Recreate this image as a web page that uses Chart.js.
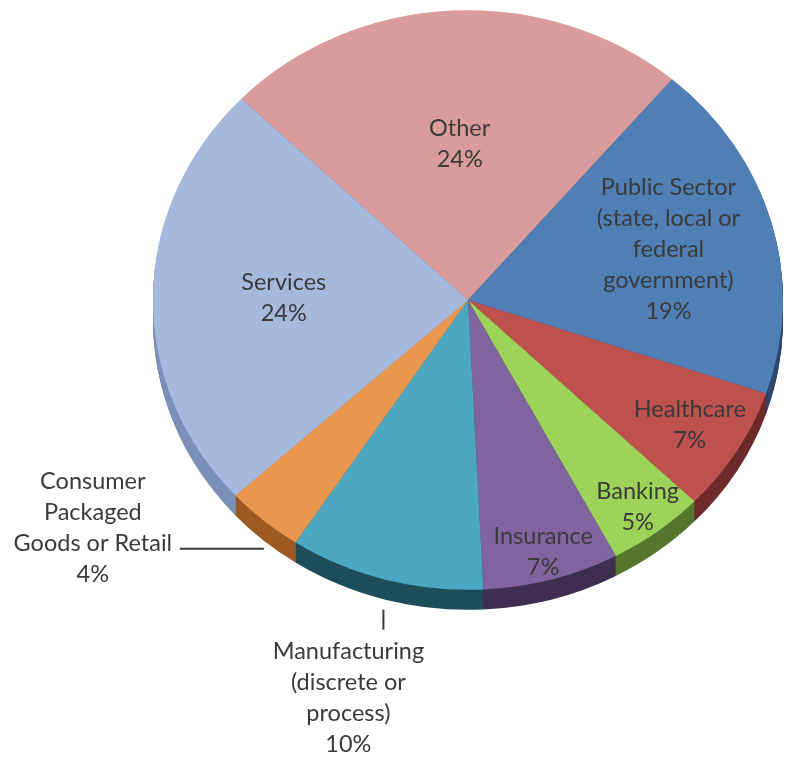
<!DOCTYPE html>
<html>
<head>
<meta charset="utf-8">
<script src="https://cdn.jsdelivr.net/npm/chart.js@4.4.0/dist/chart.umd.min.js"></script>
<style>
  html, body { margin: 0; padding: 0; background: #fff; overflow: hidden; }
  #wrap { position: absolute; left: 0; top: -20px; width: 787px; height: 800px; }
</style>
</head>
<body>
<div id="wrap"><canvas id="pie" width="787" height="800"></canvas></div>
<script>
// the data
const categories = ['Other', 'Public Sector (state, local or federal government)', 'Healthcare', 'Banking',
  'Insurance', 'Manufacturing (discrete or process)', 'Consumer Packaged Goods or Retail', 'Services'];
const shares = [24, 19, 7, 5, 7, 10, 4, 24];
// how the category names are wrapped on the chart
const labelLines = [
  ['Other'],
  ['Public Sector', '(state, local or', 'federal', 'government)'],
  ['Healthcare'],
  ['Banking'],
  ['Insurance'],
  ['Manufacturing', '(discrete or', 'process)'],
  ['Consumer', 'Packaged', 'Goods or Retail'],
  ['Services']
];
const faceColours = ['#D99B9B', '#4F7FB5', '#BE514E', '#9ED35A', '#7F64A0', '#4BA8C0', '#E9974F', '#A5B9DC'];
const rimColours = ['#8A5A5A', '#2E4A6E', '#6E2B29', '#55772D', '#3F2F52', '#1F4E5B', '#9C5A22', '#7B90B8'];

const tilt = 0.92;     // vertical squash of the pie
const rimDepth = 20;   // thickness of the side of the pie

// where each label goes: r = fraction of radius inside the slice, or an outside label with a leader
const placement = [
  { r: 0.54 },
  { r: 0.66 },
  { r: 0.825 },
  { r: 0.895 },
  { r: 0.9 },
  { leader: [[-2, 10], [-2, 30]], text: [-37, 52] },
  { leader: [[0, 8], [-84, 8]], text: [-171, -59] },
  { r: 0.585 }
];

const tiltedPie = {
  id: 'tiltedPie',
  beforeDatasetsDraw(chart) {
    const ctx = chart.ctx;
    const arcs = chart.getDatasetMeta(0).data;
    const cx = arcs[0].x, cy = arcs[0].y;
    ctx.save();
    ctx.translate(cx, cy);
    ctx.scale(1, tilt);
    ctx.translate(-cx, -cy);
    // side of the pie: stacked copies of every slice, pushed down
    for (let d = rimDepth; d > 0; d--) {
      arcs.forEach((arc, i) => {
        const y = arc.y + d / tilt;
        ctx.beginPath();
        ctx.moveTo(arc.x, y);
        ctx.arc(arc.x, y, arc.outerRadius, arc.startAngle, arc.endAngle);
        ctx.closePath();
        ctx.fillStyle = rimColours[i];
        ctx.fill();
      });
    }
  },
  afterDatasetsDraw(chart) {
    chart.ctx.restore();
  },
  afterDraw(chart) {
    const ctx = chart.ctx;
    const arcs = chart.getDatasetMeta(0).data;
    const lh = 31;
    ctx.save();
    ctx.font = '23.5px Lato';
    ctx.fillStyle = '#3a3a3a';
    ctx.strokeStyle = '#3a3a3a';
    ctx.lineWidth = 2;
    ctx.textAlign = 'center';
    ctx.textBaseline = 'middle';
    arcs.forEach((arc, i) => {
      const lines = labelLines[i].concat(shares[i] + '%');
      const mid = (arc.startAngle + arc.endAngle) / 2;
      const p = placement[i];
      let tx, ty;
      if (p.r) {
        tx = arc.x + Math.cos(mid) * arc.outerRadius * p.r;
        ty = arc.y + Math.sin(mid) * arc.outerRadius * p.r * tilt - (lines.length - 1) * lh / 2;
      } else {
        const ex = arc.x + Math.cos(mid) * arc.outerRadius;
        const ey = arc.y + Math.sin(mid) * arc.outerRadius * tilt + rimDepth;
        ctx.beginPath();
        ctx.moveTo(ex + p.leader[0][0], ey + p.leader[0][1]);
        ctx.lineTo(ex + p.leader[1][0], ey + p.leader[1][1]);
        ctx.stroke();
        tx = ex + p.text[0];
        ty = ey + p.text[1];
      }
      lines.forEach((s, k) => ctx.fillText(s, tx, ty + k * lh));
    });
    ctx.restore();
  }
};

new Chart(document.getElementById('pie'), {
  type: 'pie',
  data: {
    labels: categories,
    datasets: [{
      data: shares,
      backgroundColor: faceColours,
      borderWidth: 0
    }]
  },
  options: {
    responsive: false,
    animation: false,
    rotation: -46,
    layout: { padding: { left: 153, right: 4, top: 5, bottom: 165 } },
    plugins: {
      legend: { display: false },
      tooltip: { enabled: false }
    }
  },
  plugins: [tiltedPie]
});
</script>
</body>
</html>
